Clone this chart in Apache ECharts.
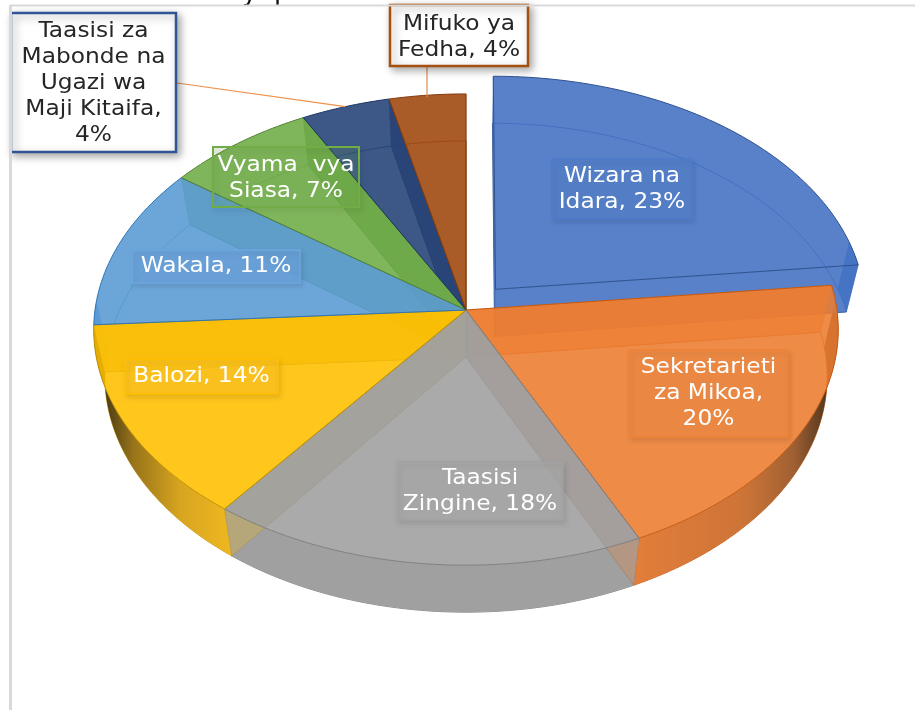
<!DOCTYPE html>
<html><head><meta charset="utf-8">
<style>html,body{margin:0;padding:0;background:#fff}#c{width:915px;height:710px}</style>
<script src="https://cdn.jsdelivr.net/npm/echarts@6/dist/echarts.min.js"></script>
</head><body><div id="c"></div>
<script>
const categories = ['Wizara na Idara','Sekretarieti za Mikoa','Taasisi Zingine','Balozi','Wakala','Vyama vya Siasa','Taasisi za Mabonde na Ugazi wa Maji Kitaifa','Mifuko ya Fedha'];
const values = [23.3,19.6,17.5,13.6,11.1,7.1,4.2,3.6];
const colors = ['#4472C4','#ED7D31','#A0A0A0','#FFC000','#5B9BD5','#70AD47','#264478','#9E480E'];
const edges = ['#2F528F','#C55A11','#7F7F7F','#BF9000','#2E75B6','#548235','#1F3864','#843C0C'];
const boxFills = ['#5480CB','#EF8A45','#AAAAAA','#FFC51F','#6BA3DB','#70AD47','#ffffff','#ffffff'];
const boxEdges = ['#4F7BCB','#F08336','#A3A3A3','#FFC000','#6BA7E0','#70AD47','#2F5597','#A5500F'];
const labelLines = [['Wizara na','Idara, 23%'],['Sekretarieti','za Mikoa,','20%'],['Taasisi','Zingine, 18%'],['Balozi, 14%'],['Wakala, 11%'],['Vyama  vya','Siasa, 7%'],['Taasisi za','Mabonde na','Ugazi wa','Maji Kitaifa,','4%'],['Mifuko ya','Fedha, 4%']];
// layout: [x0,y0,x1,y1] of each data label box, and vertical text nudges
const boxes = [[552,159,692,219],[629,350,788,437],[397,462,563,520],[125,359,278,394],[132,250,300,283],[213,147,359,207],[11,13,176,152],[390,5,528,66]];
const textDy = [0,0,0,0,0,1,1,2];
const outside = [false,false,false,false,false,false,true,true];
const leaderFrom = {6:[177,83],7:[427,66]};
const frontCos = [0.22,0.05,0.05,0.05,0.05,0.05,0.05,0.05];
const wallAlpha = [0.87,1,1,1,1,1,1,1];
const radialAlpha = [0.87,0.7,0.62,0.62,0.62,0.62,0.8,0.8];
const radialOrder = [0,1,7,6,4,5,3,2];
const wallGrad = {
  1:{x:640,x2:832,stops:[[0,'#E27D3A'],[0.55,'#CC7437'],[0.8,'#A06032'],[1,'#46301C']]},
  3:{x:100,x2:234,stops:[[0,'#3E3214'],[0.25,'#98741A'],[0.6,'#D8A520'],[1,'#F0B820']]}
};
const G = {cx:466,cy:310,R:371,B:234,p:0.083,depth:47,bx:0.97,ex:0.12};
const total = values.reduce((a,b)=>a+b,0);
const starts=[]; let acc=0; values.forEach(v=>{starts.push(acc/total*Math.PI*2);acc+=v;});
const A=(c,a)=>echarts.color.modifyAlpha(c,a);
function proj(u,v,bottom){const d=1+G.p*v;
  return bottom?[G.cx+G.R*G.bx*u/d,G.cy+G.depth-G.B*v/d]:[G.cx+G.R*u/d,G.cy-G.B*v/d];}
function sliceGeom(i){
  const a0=starts[i],a1=a0+values[i]/total*Math.PI*2,mid=(a0+a1)/2;
  const e=i===0?G.ex:0,ox=e*Math.sin(mid),oy=e*Math.cos(mid);
  const pt=(a,b)=>proj(Math.sin(a)+ox,Math.cos(a)+oy,b);
  const n=Math.max(8,Math.ceil(values[i]*3));
  const angs=[];for(let k=0;k<=n;k++)angs.push(a0+(a1-a0)*k/n);
  return {a0,a1,mid,angs,pt,apexT:proj(ox,oy,false),apexB:proj(ox,oy,true),arcT:angs.map(a=>pt(a,false)),arcB:angs.map(a=>pt(a,true))};
}
function poly(points,fill,stroke,lw){return {type:'polygon',shape:{points},style:{fill,stroke,lineWidth:lw==null?1:lw}};}
function grad(i){const g=wallGrad[i];if(!g)return A(colors[i],wallAlpha[i]);
  return {type:'linear',x:g.x,y:0,x2:g.x2,y2:0,global:true,colorStops:g.stops.map(s=>({offset:s[0],color:s[1]}))};}
function outerWalls(g,i){
  const back=[],front=[];
  g.angs.forEach((a,k)=>{ (Math.cos(a)<frontCos[i]?front:back).push(k); });
  const kids=[];
  if(front.length&&back.length) back.push(front[0]);
  const mk=(idx)=>[...idx.map(k=>g.arcT[k]),...idx.slice().reverse().map(k=>g.arcB[k])];
  if(back.length>1){back.sort((x,y)=>x-y);kids.push(poly(mk(back),A(colors[i],0.15),null,0));}
  if(front.length>1)kids.push(poly(mk(front),grad(i),null,0));
  return kids;
}
const rows=values.map((v,i)=>[i,v]);
function layerSeries(z,fn,data){return {type:'custom',coordinateSystem:'none',silent:true,animation:false,z,data:data||rows,renderItem:(p,api)=>fn(api.value(0))};}
const option={
  animation:false,
  graphic:[
    {type:'text',z:100,style:{text:'y  p',x:242,y:-20,font:'26px "DejaVu Sans"',fill:'#111'}},
    {type:'line',z:100,shape:{x1:10,y1:5.5,x2:915,y2:5.5},style:{stroke:'#d9d9d9',lineWidth:2}},
    {type:'line',z:100,shape:{x1:10.5,y1:5,x2:10.5,y2:710},style:{stroke:'#d9d9d9',lineWidth:3}}
  ],
  series:[
    layerSeries(2,i=>{const g=sliceGeom(i);return poly([g.apexB,...g.arcB],A(colors[i],0.15),A(edges[i],0.9));}),
    layerSeries(3,i=>({type:'group',children:outerWalls(sliceGeom(i),i)})),
    layerSeries(4,i=>{const g=sliceGeom(i);return {type:'group',children:[
      poly([g.apexT,g.arcT[0],g.arcB[0],g.apexB],A(colors[i],radialAlpha[i]),A(edges[i],0.6),0.5),
      poly([g.apexT,g.arcT[g.arcT.length-1],g.arcB[g.arcB.length-1],g.apexB],A(colors[i],radialAlpha[i]),A(edges[i],0.6),0.5)
    ]};},radialOrder.map(i=>rows[i])),
    layerSeries(5,i=>{const g=sliceGeom(i);return poly([g.apexT,...g.arcT],A(colors[i],0.87),edges[i],1);}),
    layerSeries(6,i=>{
      const g=sliceGeom(i),b=boxes[i],kids=[],out=outside[i];
      if(out){const m=proj(Math.sin(g.mid),Math.cos(g.mid),false),f=leaderFrom[i];
        kids.push({type:'line',shape:{x1:f[0],y1:f[1],x2:i===7?f[0]:m[0],y2:i===7?m[1]+2:m[1]},style:{stroke:i===7?'#E08A50':'#F0904A',lineWidth:1.2}});}
      kids.push({type:'rect',shape:{x:b[0],y:b[1],width:b[2]-b[0],height:b[3]-b[1]},
        style:{fill:out?'#fff':A(boxFills[i],i===5?0.15:0.7),stroke:boxEdges[i],lineWidth:out?2.5:(i===5?2:1.5),shadowBlur:out?8:5,shadowOffsetX:out?3:2,shadowOffsetY:3,shadowColor:out?'rgba(0,0,0,0.35)':'rgba(0,0,0,0.12)'}});
      const cx=(b[0]+b[2])/2,cy=(b[1]+b[3])/2+textDy[i];
      kids.push({type:'text',x:cx,y:cy,scaleX:1.06,style:{text:labelLines[i].join('\n'),x:0,y:0,align:'center',verticalAlign:'middle',
        font:'22px "DejaVu Sans"',lineHeight:26,fill:out?'#262626':'#fff'}});
      return {type:'group',children:kids};
    })
  ]
};
echarts.init(document.getElementById('c'),null,{renderer:'canvas'}).setOption(option);
</script></body></html>
